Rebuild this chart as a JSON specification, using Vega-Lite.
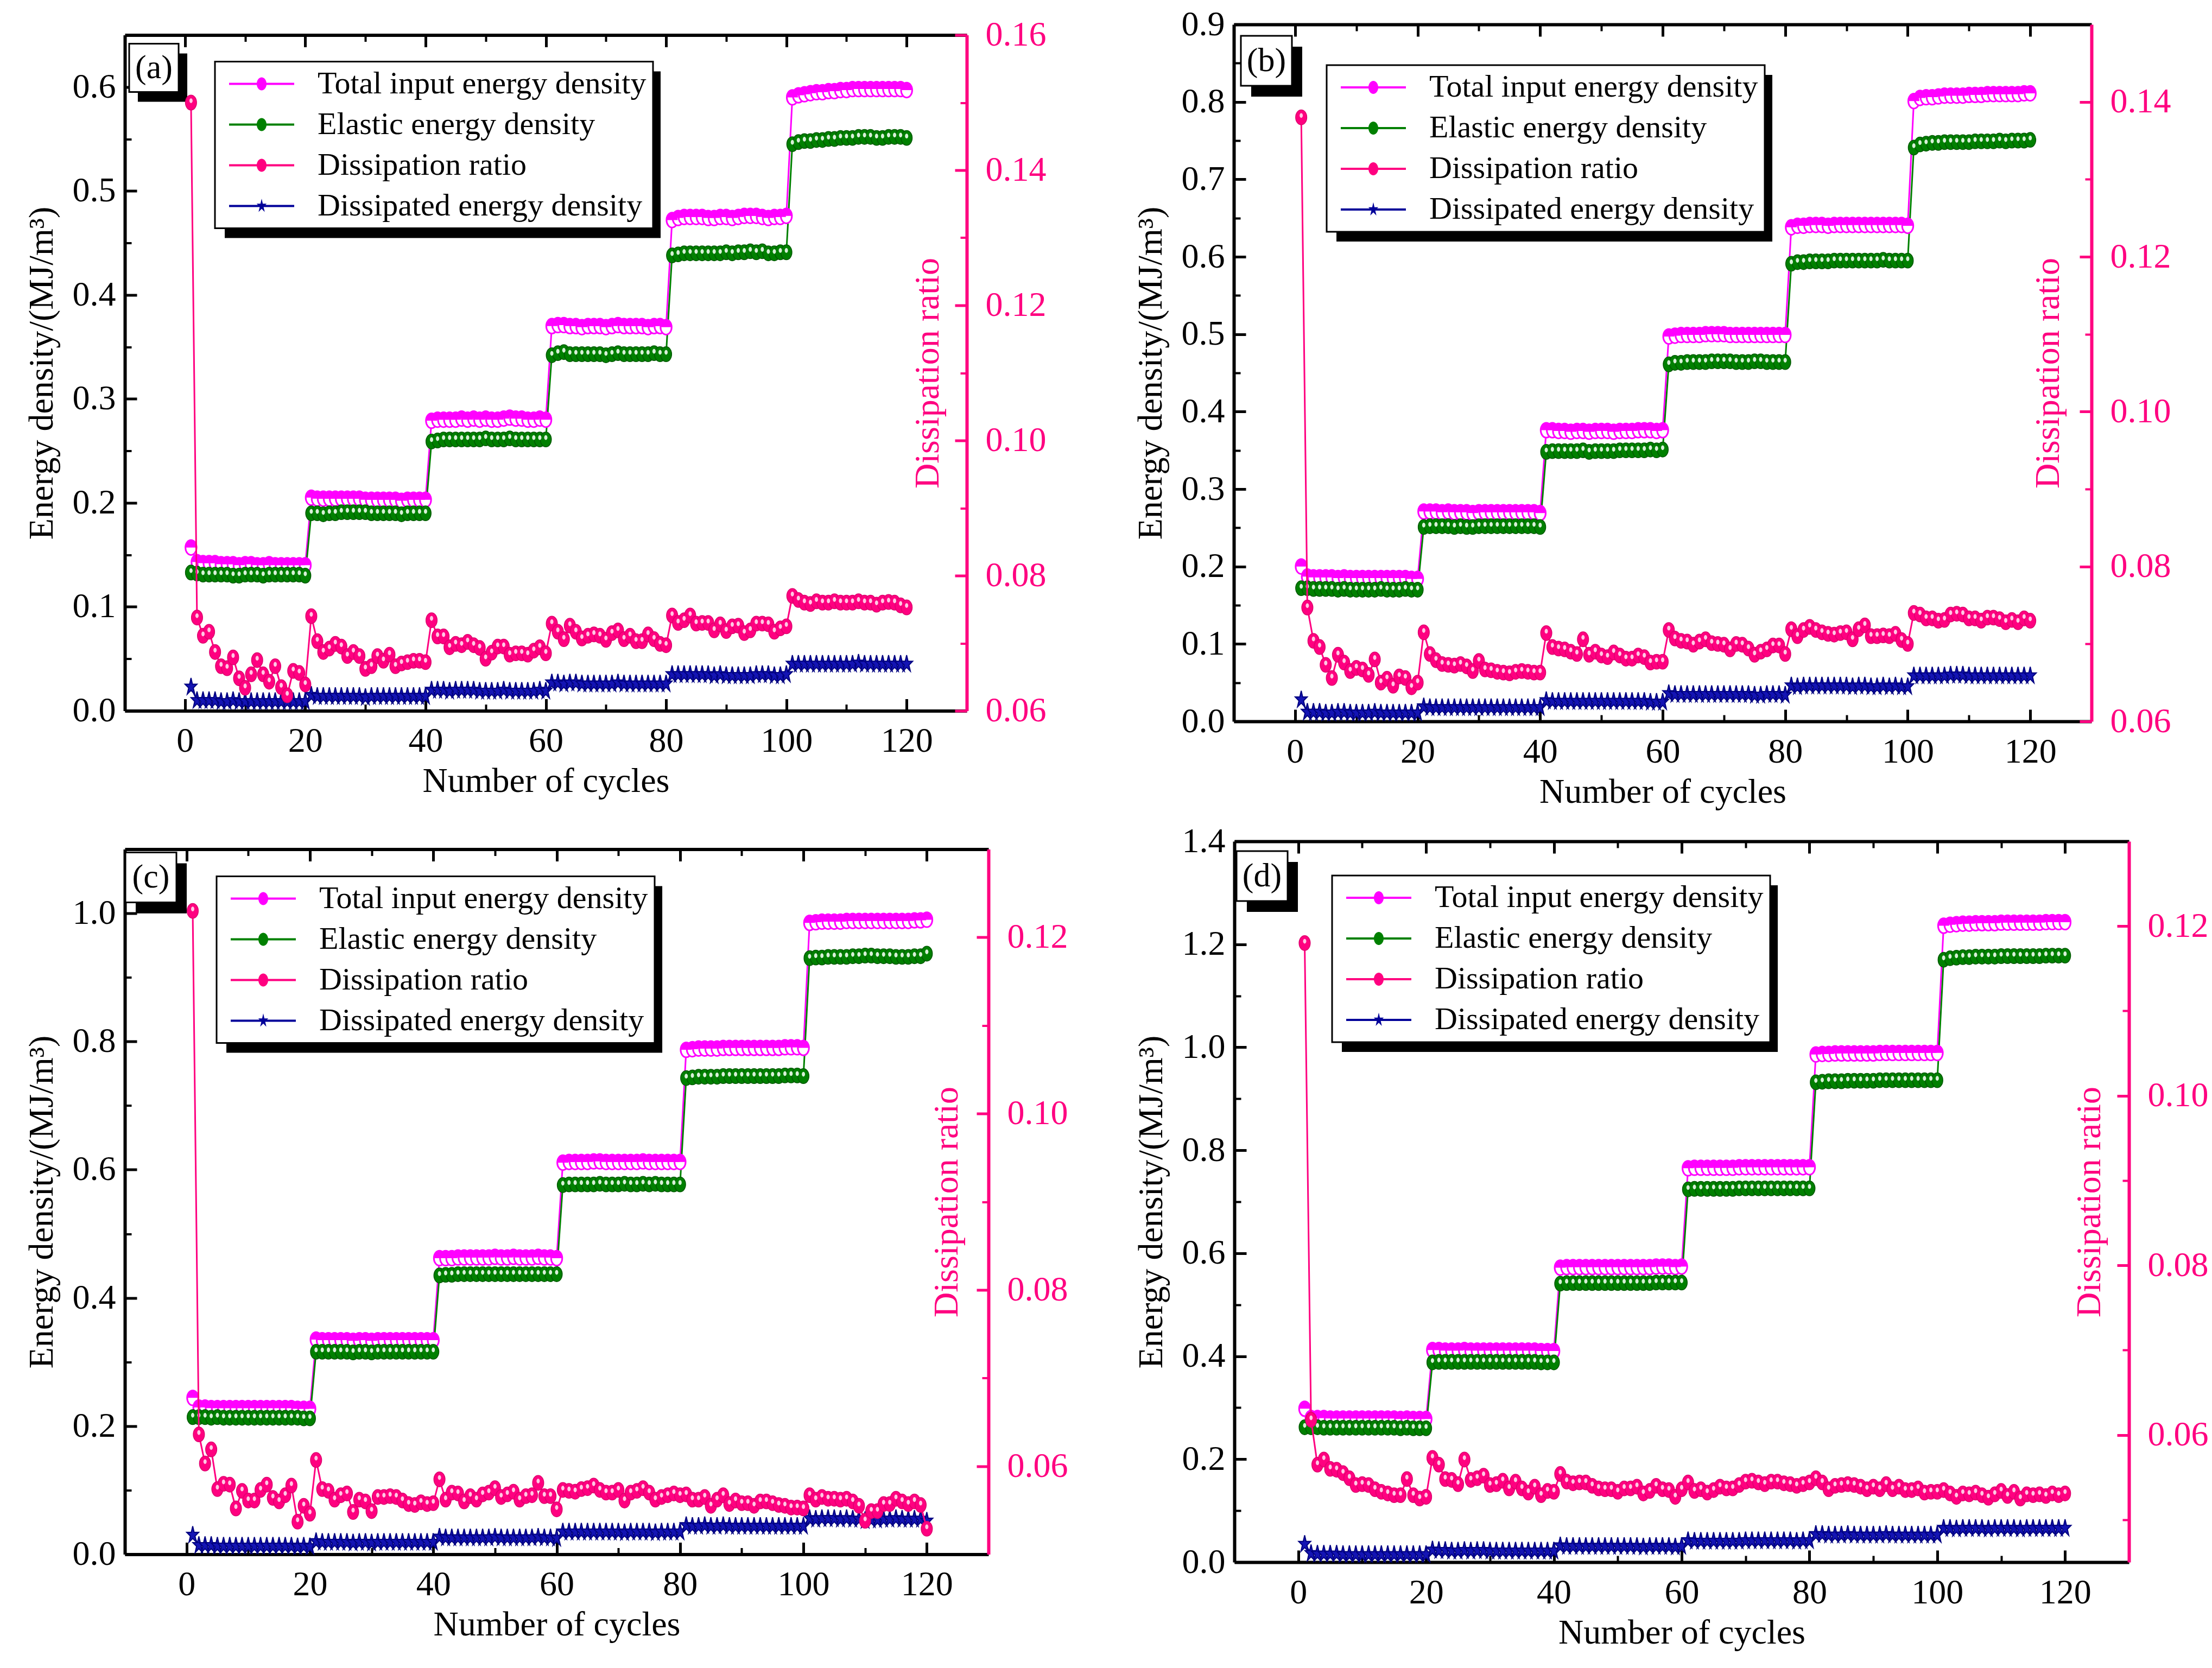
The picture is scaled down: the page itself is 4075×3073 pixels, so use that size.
{
  "$schema": "https://vega.github.io/schema/vega-lite/v6.json",
  "background": "white",
  "padding": {"left": 45, "top": 13, "right": 10, "bottom": 10},
  "config": {
    "font": "Liberation Serif",
    "view": {"stroke": null},
    "axis": {
      "grid": false, "labelFont": "Liberation Serif", "titleFont": "Liberation Serif",
      "labelFontSize": 64, "titleFontSize": 64, "titleFontWeight": "normal",
      "labelColor": "black", "titleColor": "black", "domainColor": "black", "tickColor": "black",
      "domainWidth": 6, "tickWidth": 5, "labelFlush": false, "labelOverlap": false
    },
    "legend": {"labelFont": "Liberation Serif", "labelLimit": 3000, "strokeWidth": 3}
  },
  "datasets": {
    "leg": [
      {"s": "Total input energy density"},
      {"s": "Elastic energy density"},
      {"s": "Dissipation ratio"},
      {"s": "Dissipated energy density"}
    ],
    "a": [
      {"n":1,"t":0.157,"e":0.133,"r":0.150,"w":0.023},
      {"n":2,"t":0.143,"e":0.132,"r":0.0738,"w":0.010},
      {"n":3,"t":0.142,"e":0.131,"r":0.0711,"w":0.010},
      {"n":4,"t":0.142,"e":0.131,"r":0.0717,"w":0.010},
      {"n":5,"t":0.142,"e":0.131,"r":0.0687,"w":0.010},
      {"n":6,"t":0.141,"e":0.131,"r":0.0666,"w":0.009},
      {"n":7,"t":0.141,"e":0.131,"r":0.0663,"w":0.009},
      {"n":8,"t":0.141,"e":0.130,"r":0.0679,"w":0.010},
      {"n":9,"t":0.140,"e":0.130,"r":0.0648,"w":0.009},
      {"n":10,"t":0.141,"e":0.131,"r":0.0634,"w":0.009},
      {"n":11,"t":0.141,"e":0.131,"r":0.0654,"w":0.009},
      {"n":12,"t":0.140,"e":0.131,"r":0.0675,"w":0.009},
      {"n":13,"t":0.140,"e":0.130,"r":0.0654,"w":0.009},
      {"n":14,"t":0.141,"e":0.131,"r":0.0643,"w":0.009},
      {"n":15,"t":0.140,"e":0.131,"r":0.0666,"w":0.009},
      {"n":16,"t":0.140,"e":0.131,"r":0.0635,"w":0.009},
      {"n":17,"t":0.140,"e":0.131,"r":0.0623,"w":0.009},
      {"n":18,"t":0.140,"e":0.131,"r":0.0659,"w":0.009},
      {"n":19,"t":0.140,"e":0.131,"r":0.0656,"w":0.009},
      {"n":20,"t":0.140,"e":0.130,"r":0.0639,"w":0.009},
      {"n":21,"t":0.205,"e":0.190,"r":0.0740,"w":0.015},
      {"n":22,"t":0.204,"e":0.190,"r":0.0703,"w":0.014},
      {"n":23,"t":0.204,"e":0.189,"r":0.0687,"w":0.014},
      {"n":24,"t":0.204,"e":0.190,"r":0.0692,"w":0.014},
      {"n":25,"t":0.204,"e":0.190,"r":0.0699,"w":0.014},
      {"n":26,"t":0.204,"e":0.191,"r":0.0695,"w":0.014},
      {"n":27,"t":0.204,"e":0.191,"r":0.0681,"w":0.014},
      {"n":28,"t":0.204,"e":0.191,"r":0.0687,"w":0.014},
      {"n":29,"t":0.204,"e":0.191,"r":0.0681,"w":0.014},
      {"n":30,"t":0.203,"e":0.191,"r":0.0662,"w":0.013},
      {"n":31,"t":0.203,"e":0.190,"r":0.0666,"w":0.014},
      {"n":32,"t":0.203,"e":0.190,"r":0.0681,"w":0.014},
      {"n":33,"t":0.203,"e":0.190,"r":0.0674,"w":0.014},
      {"n":34,"t":0.203,"e":0.190,"r":0.0683,"w":0.014},
      {"n":35,"t":0.203,"e":0.190,"r":0.0666,"w":0.014},
      {"n":36,"t":0.202,"e":0.189,"r":0.0670,"w":0.014},
      {"n":37,"t":0.203,"e":0.190,"r":0.0672,"w":0.014},
      {"n":38,"t":0.203,"e":0.190,"r":0.0674,"w":0.014},
      {"n":39,"t":0.203,"e":0.190,"r":0.0674,"w":0.014},
      {"n":40,"t":0.203,"e":0.190,"r":0.0672,"w":0.014},
      {"n":41,"t":0.279,"e":0.259,"r":0.0734,"w":0.020},
      {"n":42,"t":0.280,"e":0.260,"r":0.0710,"w":0.020},
      {"n":43,"t":0.280,"e":0.261,"r":0.0710,"w":0.020},
      {"n":44,"t":0.280,"e":0.261,"r":0.0694,"w":0.019},
      {"n":45,"t":0.280,"e":0.261,"r":0.0699,"w":0.020},
      {"n":46,"t":0.281,"e":0.261,"r":0.0697,"w":0.020},
      {"n":47,"t":0.280,"e":0.261,"r":0.0702,"w":0.020},
      {"n":48,"t":0.281,"e":0.261,"r":0.0697,"w":0.020},
      {"n":49,"t":0.280,"e":0.261,"r":0.0693,"w":0.019},
      {"n":50,"t":0.281,"e":0.262,"r":0.0677,"w":0.019},
      {"n":51,"t":0.280,"e":0.261,"r":0.0686,"w":0.019},
      {"n":52,"t":0.280,"e":0.261,"r":0.0695,"w":0.019},
      {"n":53,"t":0.281,"e":0.261,"r":0.0695,"w":0.020},
      {"n":54,"t":0.282,"e":0.262,"r":0.0683,"w":0.019},
      {"n":55,"t":0.281,"e":0.261,"r":0.0685,"w":0.019},
      {"n":56,"t":0.281,"e":0.261,"r":0.0685,"w":0.019},
      {"n":57,"t":0.280,"e":0.261,"r":0.0683,"w":0.019},
      {"n":58,"t":0.280,"e":0.261,"r":0.0689,"w":0.019},
      {"n":59,"t":0.281,"e":0.261,"r":0.0694,"w":0.020},
      {"n":60,"t":0.280,"e":0.261,"r":0.0685,"w":0.019},
      {"n":61,"t":0.370,"e":0.342,"r":0.0729,"w":0.027},
      {"n":62,"t":0.371,"e":0.344,"r":0.0717,"w":0.027},
      {"n":63,"t":0.371,"e":0.345,"r":0.0706,"w":0.026},
      {"n":64,"t":0.370,"e":0.343,"r":0.0726,"w":0.027},
      {"n":65,"t":0.370,"e":0.343,"r":0.0717,"w":0.027},
      {"n":66,"t":0.369,"e":0.343,"r":0.0707,"w":0.026},
      {"n":67,"t":0.370,"e":0.343,"r":0.0711,"w":0.026},
      {"n":68,"t":0.370,"e":0.343,"r":0.0713,"w":0.026},
      {"n":69,"t":0.370,"e":0.343,"r":0.0711,"w":0.026},
      {"n":70,"t":0.369,"e":0.342,"r":0.0705,"w":0.026},
      {"n":71,"t":0.370,"e":0.343,"r":0.0715,"w":0.026},
      {"n":72,"t":0.371,"e":0.344,"r":0.0719,"w":0.027},
      {"n":73,"t":0.370,"e":0.343,"r":0.0706,"w":0.026},
      {"n":74,"t":0.370,"e":0.343,"r":0.0711,"w":0.026},
      {"n":75,"t":0.370,"e":0.343,"r":0.0703,"w":0.026},
      {"n":76,"t":0.370,"e":0.343,"r":0.0703,"w":0.026},
      {"n":77,"t":0.369,"e":0.343,"r":0.0713,"w":0.026},
      {"n":78,"t":0.370,"e":0.344,"r":0.0706,"w":0.026},
      {"n":79,"t":0.370,"e":0.343,"r":0.0699,"w":0.026},
      {"n":80,"t":0.369,"e":0.343,"r":0.0697,"w":0.026},
      {"n":81,"t":0.472,"e":0.438,"r":0.0741,"w":0.035},
      {"n":82,"t":0.474,"e":0.439,"r":0.0730,"w":0.035},
      {"n":83,"t":0.475,"e":0.440,"r":0.0734,"w":0.035},
      {"n":84,"t":0.475,"e":0.440,"r":0.0741,"w":0.035},
      {"n":85,"t":0.475,"e":0.440,"r":0.0729,"w":0.035},
      {"n":86,"t":0.475,"e":0.440,"r":0.0730,"w":0.035},
      {"n":87,"t":0.474,"e":0.440,"r":0.0730,"w":0.035},
      {"n":88,"t":0.474,"e":0.440,"r":0.0719,"w":0.034},
      {"n":89,"t":0.475,"e":0.440,"r":0.0728,"w":0.035},
      {"n":90,"t":0.475,"e":0.441,"r":0.0718,"w":0.034},
      {"n":91,"t":0.474,"e":0.440,"r":0.0725,"w":0.034},
      {"n":92,"t":0.475,"e":0.441,"r":0.0726,"w":0.034},
      {"n":93,"t":0.476,"e":0.441,"r":0.0715,"w":0.034},
      {"n":94,"t":0.476,"e":0.442,"r":0.0719,"w":0.034},
      {"n":95,"t":0.476,"e":0.441,"r":0.0729,"w":0.035},
      {"n":96,"t":0.475,"e":0.442,"r":0.0729,"w":0.035},
      {"n":97,"t":0.474,"e":0.440,"r":0.0728,"w":0.035},
      {"n":98,"t":0.475,"e":0.440,"r":0.0717,"w":0.034},
      {"n":99,"t":0.475,"e":0.441,"r":0.0722,"w":0.034},
      {"n":100,"t":0.476,"e":0.441,"r":0.0725,"w":0.035},
      {"n":101,"t":0.590,"e":0.545,"r":0.0770,"w":0.045},
      {"n":102,"t":0.592,"e":0.547,"r":0.0764,"w":0.045},
      {"n":103,"t":0.593,"e":0.548,"r":0.0760,"w":0.045},
      {"n":104,"t":0.594,"e":0.548,"r":0.0758,"w":0.045},
      {"n":105,"t":0.595,"e":0.549,"r":0.0762,"w":0.045},
      {"n":106,"t":0.595,"e":0.549,"r":0.0760,"w":0.045},
      {"n":107,"t":0.596,"e":0.550,"r":0.0760,"w":0.045},
      {"n":108,"t":0.596,"e":0.550,"r":0.0762,"w":0.045},
      {"n":109,"t":0.597,"e":0.551,"r":0.0760,"w":0.045},
      {"n":110,"t":0.597,"e":0.551,"r":0.0760,"w":0.045},
      {"n":111,"t":0.598,"e":0.551,"r":0.0760,"w":0.045},
      {"n":112,"t":0.598,"e":0.552,"r":0.0762,"w":0.046},
      {"n":113,"t":0.598,"e":0.552,"r":0.0760,"w":0.045},
      {"n":114,"t":0.598,"e":0.552,"r":0.0760,"w":0.045},
      {"n":115,"t":0.598,"e":0.551,"r":0.0757,"w":0.045},
      {"n":116,"t":0.598,"e":0.551,"r":0.0760,"w":0.045},
      {"n":117,"t":0.598,"e":0.552,"r":0.0761,"w":0.045},
      {"n":118,"t":0.598,"e":0.552,"r":0.0760,"w":0.045},
      {"n":119,"t":0.598,"e":0.552,"r":0.0756,"w":0.045},
      {"n":120,"t":0.597,"e":0.551,"r":0.0753,"w":0.045}
    ],
    "b": [
      {"n":1,"t":0.200,"e":0.172,"r":0.138,"w":0.028},
      {"n":2,"t":0.187,"e":0.172,"r":0.0747,"w":0.012},
      {"n":3,"t":0.186,"e":0.171,"r":0.0704,"w":0.012},
      {"n":4,"t":0.186,"e":0.171,"r":0.0696,"w":0.012},
      {"n":5,"t":0.186,"e":0.171,"r":0.0673,"w":0.011},
      {"n":6,"t":0.186,"e":0.171,"r":0.0656,"w":0.011},
      {"n":7,"t":0.185,"e":0.170,"r":0.0686,"w":0.012},
      {"n":8,"t":0.186,"e":0.171,"r":0.0676,"w":0.012},
      {"n":9,"t":0.185,"e":0.170,"r":0.0665,"w":0.011},
      {"n":10,"t":0.185,"e":0.170,"r":0.0669,"w":0.011},
      {"n":11,"t":0.185,"e":0.170,"r":0.0667,"w":0.011},
      {"n":12,"t":0.185,"e":0.170,"r":0.0660,"w":0.011},
      {"n":13,"t":0.185,"e":0.170,"r":0.0680,"w":0.012},
      {"n":14,"t":0.185,"e":0.171,"r":0.0650,"w":0.011},
      {"n":15,"t":0.185,"e":0.170,"r":0.0655,"w":0.011},
      {"n":16,"t":0.185,"e":0.170,"r":0.0646,"w":0.011},
      {"n":17,"t":0.185,"e":0.170,"r":0.0658,"w":0.011},
      {"n":18,"t":0.185,"e":0.171,"r":0.0656,"w":0.011},
      {"n":19,"t":0.184,"e":0.170,"r":0.0644,"w":0.011},
      {"n":20,"t":0.184,"e":0.170,"r":0.0650,"w":0.011},
      {"n":21,"t":0.271,"e":0.251,"r":0.0715,"w":0.019},
      {"n":22,"t":0.271,"e":0.252,"r":0.0687,"w":0.018},
      {"n":23,"t":0.271,"e":0.252,"r":0.0679,"w":0.018},
      {"n":24,"t":0.270,"e":0.252,"r":0.0674,"w":0.018},
      {"n":25,"t":0.271,"e":0.252,"r":0.0673,"w":0.018},
      {"n":26,"t":0.270,"e":0.251,"r":0.0672,"w":0.018},
      {"n":27,"t":0.270,"e":0.252,"r":0.0674,"w":0.018},
      {"n":28,"t":0.270,"e":0.251,"r":0.0671,"w":0.018},
      {"n":29,"t":0.269,"e":0.251,"r":0.0665,"w":0.018},
      {"n":30,"t":0.270,"e":0.252,"r":0.0678,"w":0.018},
      {"n":31,"t":0.270,"e":0.252,"r":0.0667,"w":0.018},
      {"n":32,"t":0.270,"e":0.252,"r":0.0666,"w":0.018},
      {"n":33,"t":0.270,"e":0.252,"r":0.0664,"w":0.018},
      {"n":34,"t":0.270,"e":0.252,"r":0.0663,"w":0.018},
      {"n":35,"t":0.270,"e":0.252,"r":0.0662,"w":0.018},
      {"n":36,"t":0.270,"e":0.252,"r":0.0664,"w":0.018},
      {"n":37,"t":0.270,"e":0.252,"r":0.0665,"w":0.018},
      {"n":38,"t":0.270,"e":0.252,"r":0.0664,"w":0.018},
      {"n":39,"t":0.270,"e":0.252,"r":0.0663,"w":0.018},
      {"n":40,"t":0.269,"e":0.251,"r":0.0663,"w":0.018},
      {"n":41,"t":0.376,"e":0.348,"r":0.0714,"w":0.027},
      {"n":42,"t":0.376,"e":0.349,"r":0.0696,"w":0.026},
      {"n":43,"t":0.375,"e":0.349,"r":0.0694,"w":0.026},
      {"n":44,"t":0.375,"e":0.349,"r":0.0693,"w":0.026},
      {"n":45,"t":0.374,"e":0.349,"r":0.0690,"w":0.026},
      {"n":46,"t":0.375,"e":0.349,"r":0.0687,"w":0.026},
      {"n":47,"t":0.375,"e":0.350,"r":0.0706,"w":0.026},
      {"n":48,"t":0.374,"e":0.348,"r":0.0686,"w":0.026},
      {"n":49,"t":0.375,"e":0.349,"r":0.0690,"w":0.026},
      {"n":50,"t":0.375,"e":0.349,"r":0.0685,"w":0.026},
      {"n":51,"t":0.375,"e":0.349,"r":0.0683,"w":0.026},
      {"n":52,"t":0.374,"e":0.349,"r":0.0689,"w":0.026},
      {"n":53,"t":0.375,"e":0.350,"r":0.0685,"w":0.026},
      {"n":54,"t":0.375,"e":0.350,"r":0.0681,"w":0.026},
      {"n":55,"t":0.375,"e":0.350,"r":0.0681,"w":0.026},
      {"n":56,"t":0.376,"e":0.350,"r":0.0685,"w":0.026},
      {"n":57,"t":0.376,"e":0.350,"r":0.0683,"w":0.026},
      {"n":58,"t":0.376,"e":0.351,"r":0.0676,"w":0.025},
      {"n":59,"t":0.375,"e":0.350,"r":0.0677,"w":0.025},
      {"n":60,"t":0.376,"e":0.351,"r":0.0677,"w":0.025},
      {"n":61,"t":0.497,"e":0.461,"r":0.0718,"w":0.036},
      {"n":62,"t":0.498,"e":0.463,"r":0.0707,"w":0.035},
      {"n":63,"t":0.499,"e":0.463,"r":0.0704,"w":0.035},
      {"n":64,"t":0.499,"e":0.464,"r":0.0703,"w":0.035},
      {"n":65,"t":0.499,"e":0.464,"r":0.0699,"w":0.035},
      {"n":66,"t":0.499,"e":0.464,"r":0.0703,"w":0.035},
      {"n":67,"t":0.500,"e":0.464,"r":0.0706,"w":0.035},
      {"n":68,"t":0.500,"e":0.465,"r":0.0701,"w":0.035},
      {"n":69,"t":0.500,"e":0.465,"r":0.0700,"w":0.035},
      {"n":70,"t":0.500,"e":0.465,"r":0.0699,"w":0.035},
      {"n":71,"t":0.499,"e":0.465,"r":0.0693,"w":0.035},
      {"n":72,"t":0.499,"e":0.464,"r":0.0700,"w":0.035},
      {"n":73,"t":0.499,"e":0.464,"r":0.0699,"w":0.035},
      {"n":74,"t":0.499,"e":0.464,"r":0.0694,"w":0.035},
      {"n":75,"t":0.499,"e":0.465,"r":0.0686,"w":0.034},
      {"n":76,"t":0.499,"e":0.465,"r":0.0690,"w":0.034},
      {"n":77,"t":0.499,"e":0.464,"r":0.0693,"w":0.035},
      {"n":78,"t":0.499,"e":0.464,"r":0.0698,"w":0.035},
      {"n":79,"t":0.499,"e":0.464,"r":0.0698,"w":0.035},
      {"n":80,"t":0.499,"e":0.464,"r":0.0687,"w":0.034},
      {"n":81,"t":0.638,"e":0.591,"r":0.0719,"w":0.046},
      {"n":82,"t":0.640,"e":0.593,"r":0.0710,"w":0.045},
      {"n":83,"t":0.640,"e":0.593,"r":0.0718,"w":0.046},
      {"n":84,"t":0.641,"e":0.594,"r":0.0722,"w":0.046},
      {"n":85,"t":0.641,"e":0.594,"r":0.0718,"w":0.046},
      {"n":86,"t":0.641,"e":0.594,"r":0.0715,"w":0.046},
      {"n":87,"t":0.640,"e":0.594,"r":0.0713,"w":0.046},
      {"n":88,"t":0.641,"e":0.595,"r":0.0712,"w":0.046},
      {"n":89,"t":0.641,"e":0.595,"r":0.0714,"w":0.046},
      {"n":90,"t":0.641,"e":0.595,"r":0.0715,"w":0.046},
      {"n":91,"t":0.641,"e":0.595,"r":0.0706,"w":0.045},
      {"n":92,"t":0.641,"e":0.595,"r":0.0719,"w":0.046},
      {"n":93,"t":0.641,"e":0.595,"r":0.0724,"w":0.046},
      {"n":94,"t":0.641,"e":0.595,"r":0.0710,"w":0.045},
      {"n":95,"t":0.641,"e":0.595,"r":0.0710,"w":0.045},
      {"n":96,"t":0.641,"e":0.596,"r":0.0711,"w":0.046},
      {"n":97,"t":0.641,"e":0.595,"r":0.0710,"w":0.045},
      {"n":98,"t":0.641,"e":0.595,"r":0.0713,"w":0.046},
      {"n":99,"t":0.641,"e":0.595,"r":0.0705,"w":0.045},
      {"n":100,"t":0.640,"e":0.595,"r":0.0700,"w":0.045},
      {"n":101,"t":0.801,"e":0.741,"r":0.0740,"w":0.059},
      {"n":102,"t":0.805,"e":0.745,"r":0.0738,"w":0.059},
      {"n":103,"t":0.806,"e":0.746,"r":0.0733,"w":0.059},
      {"n":104,"t":0.806,"e":0.747,"r":0.0733,"w":0.059},
      {"n":105,"t":0.807,"e":0.747,"r":0.0730,"w":0.059},
      {"n":106,"t":0.808,"e":0.748,"r":0.0731,"w":0.059},
      {"n":107,"t":0.808,"e":0.748,"r":0.0738,"w":0.060},
      {"n":108,"t":0.808,"e":0.748,"r":0.0739,"w":0.060},
      {"n":109,"t":0.808,"e":0.748,"r":0.0738,"w":0.060},
      {"n":110,"t":0.809,"e":0.748,"r":0.0733,"w":0.059},
      {"n":111,"t":0.809,"e":0.749,"r":0.0733,"w":0.059},
      {"n":112,"t":0.809,"e":0.749,"r":0.0730,"w":0.059},
      {"n":113,"t":0.810,"e":0.749,"r":0.0734,"w":0.059},
      {"n":114,"t":0.810,"e":0.749,"r":0.0734,"w":0.059},
      {"n":115,"t":0.810,"e":0.750,"r":0.0732,"w":0.059},
      {"n":116,"t":0.810,"e":0.749,"r":0.0728,"w":0.059},
      {"n":117,"t":0.810,"e":0.750,"r":0.0731,"w":0.059},
      {"n":118,"t":0.810,"e":0.750,"r":0.0728,"w":0.059},
      {"n":119,"t":0.811,"e":0.750,"r":0.0733,"w":0.059},
      {"n":120,"t":0.811,"e":0.751,"r":0.0730,"w":0.059}
    ],
    "c": [
      {"n":1,"t":0.244,"e":0.214,"r":0.123,"w":0.030},
      {"n":2,"t":0.229,"e":0.214,"r":0.0636,"w":0.014},
      {"n":3,"t":0.229,"e":0.214,"r":0.0603,"w":0.014},
      {"n":4,"t":0.228,"e":0.213,"r":0.0619,"w":0.014},
      {"n":5,"t":0.228,"e":0.214,"r":0.0574,"w":0.013},
      {"n":6,"t":0.228,"e":0.213,"r":0.0580,"w":0.013},
      {"n":7,"t":0.228,"e":0.213,"r":0.0579,"w":0.013},
      {"n":8,"t":0.228,"e":0.213,"r":0.0552,"w":0.013},
      {"n":9,"t":0.228,"e":0.213,"r":0.0572,"w":0.013},
      {"n":10,"t":0.228,"e":0.213,"r":0.0561,"w":0.013},
      {"n":11,"t":0.228,"e":0.213,"r":0.0561,"w":0.013},
      {"n":12,"t":0.228,"e":0.213,"r":0.0573,"w":0.013},
      {"n":13,"t":0.228,"e":0.213,"r":0.0579,"w":0.013},
      {"n":14,"t":0.228,"e":0.213,"r":0.0564,"w":0.013},
      {"n":15,"t":0.228,"e":0.213,"r":0.0560,"w":0.013},
      {"n":16,"t":0.228,"e":0.213,"r":0.0567,"w":0.013},
      {"n":17,"t":0.228,"e":0.213,"r":0.0578,"w":0.013},
      {"n":18,"t":0.227,"e":0.213,"r":0.0537,"w":0.012},
      {"n":19,"t":0.227,"e":0.212,"r":0.0555,"w":0.013},
      {"n":20,"t":0.227,"e":0.212,"r":0.0546,"w":0.012},
      {"n":21,"t":0.335,"e":0.316,"r":0.0607,"w":0.020},
      {"n":22,"t":0.334,"e":0.316,"r":0.0574,"w":0.019},
      {"n":23,"t":0.334,"e":0.316,"r":0.0572,"w":0.019},
      {"n":24,"t":0.334,"e":0.316,"r":0.0562,"w":0.019},
      {"n":25,"t":0.334,"e":0.316,"r":0.0567,"w":0.019},
      {"n":26,"t":0.334,"e":0.316,"r":0.0569,"w":0.019},
      {"n":27,"t":0.333,"e":0.315,"r":0.0548,"w":0.018},
      {"n":28,"t":0.334,"e":0.316,"r":0.0562,"w":0.019},
      {"n":29,"t":0.334,"e":0.316,"r":0.0560,"w":0.019},
      {"n":30,"t":0.333,"e":0.315,"r":0.0549,"w":0.018},
      {"n":31,"t":0.334,"e":0.316,"r":0.0565,"w":0.019},
      {"n":32,"t":0.334,"e":0.316,"r":0.0565,"w":0.019},
      {"n":33,"t":0.334,"e":0.316,"r":0.0566,"w":0.019},
      {"n":34,"t":0.334,"e":0.316,"r":0.0565,"w":0.019},
      {"n":35,"t":0.334,"e":0.316,"r":0.0561,"w":0.019},
      {"n":36,"t":0.334,"e":0.316,"r":0.0557,"w":0.019},
      {"n":37,"t":0.334,"e":0.316,"r":0.0556,"w":0.019},
      {"n":38,"t":0.334,"e":0.316,"r":0.0559,"w":0.019},
      {"n":39,"t":0.334,"e":0.316,"r":0.0557,"w":0.019},
      {"n":40,"t":0.334,"e":0.316,"r":0.0558,"w":0.019},
      {"n":41,"t":0.462,"e":0.435,"r":0.0585,"w":0.027},
      {"n":42,"t":0.462,"e":0.436,"r":0.0562,"w":0.026},
      {"n":43,"t":0.462,"e":0.436,"r":0.0570,"w":0.026},
      {"n":44,"t":0.463,"e":0.437,"r":0.0569,"w":0.026},
      {"n":45,"t":0.463,"e":0.437,"r":0.0560,"w":0.026},
      {"n":46,"t":0.463,"e":0.437,"r":0.0566,"w":0.026},
      {"n":47,"t":0.463,"e":0.437,"r":0.0562,"w":0.026},
      {"n":48,"t":0.463,"e":0.437,"r":0.0568,"w":0.026},
      {"n":49,"t":0.463,"e":0.437,"r":0.0570,"w":0.026},
      {"n":50,"t":0.464,"e":0.437,"r":0.0575,"w":0.027},
      {"n":51,"t":0.463,"e":0.437,"r":0.0565,"w":0.026},
      {"n":52,"t":0.463,"e":0.437,"r":0.0568,"w":0.026},
      {"n":53,"t":0.464,"e":0.437,"r":0.0571,"w":0.026},
      {"n":54,"t":0.463,"e":0.437,"r":0.0562,"w":0.026},
      {"n":55,"t":0.463,"e":0.437,"r":0.0566,"w":0.026},
      {"n":56,"t":0.463,"e":0.437,"r":0.0567,"w":0.026},
      {"n":57,"t":0.464,"e":0.437,"r":0.0581,"w":0.027},
      {"n":58,"t":0.463,"e":0.437,"r":0.0566,"w":0.026},
      {"n":59,"t":0.463,"e":0.437,"r":0.0566,"w":0.026},
      {"n":60,"t":0.462,"e":0.437,"r":0.0551,"w":0.025},
      {"n":61,"t":0.611,"e":0.576,"r":0.0573,"w":0.035},
      {"n":62,"t":0.612,"e":0.577,"r":0.0572,"w":0.035},
      {"n":63,"t":0.612,"e":0.577,"r":0.0571,"w":0.035},
      {"n":64,"t":0.612,"e":0.577,"r":0.0574,"w":0.035},
      {"n":65,"t":0.612,"e":0.577,"r":0.0575,"w":0.035},
      {"n":66,"t":0.613,"e":0.577,"r":0.0578,"w":0.035},
      {"n":67,"t":0.613,"e":0.578,"r":0.0573,"w":0.035},
      {"n":68,"t":0.612,"e":0.577,"r":0.0570,"w":0.035},
      {"n":69,"t":0.612,"e":0.577,"r":0.0570,"w":0.035},
      {"n":70,"t":0.612,"e":0.577,"r":0.0573,"w":0.035},
      {"n":71,"t":0.612,"e":0.578,"r":0.0561,"w":0.034},
      {"n":72,"t":0.612,"e":0.577,"r":0.0570,"w":0.035},
      {"n":73,"t":0.612,"e":0.577,"r":0.0572,"w":0.035},
      {"n":74,"t":0.613,"e":0.578,"r":0.0575,"w":0.035},
      {"n":75,"t":0.612,"e":0.577,"r":0.0570,"w":0.035},
      {"n":76,"t":0.612,"e":0.578,"r":0.0562,"w":0.034},
      {"n":77,"t":0.612,"e":0.577,"r":0.0565,"w":0.035},
      {"n":78,"t":0.612,"e":0.577,"r":0.0567,"w":0.035},
      {"n":79,"t":0.612,"e":0.577,"r":0.0569,"w":0.035},
      {"n":80,"t":0.612,"e":0.577,"r":0.0567,"w":0.035},
      {"n":81,"t":0.787,"e":0.743,"r":0.0568,"w":0.045},
      {"n":82,"t":0.788,"e":0.744,"r":0.0562,"w":0.044},
      {"n":83,"t":0.789,"e":0.745,"r":0.0562,"w":0.044},
      {"n":84,"t":0.789,"e":0.745,"r":0.0565,"w":0.045},
      {"n":85,"t":0.789,"e":0.745,"r":0.0555,"w":0.044},
      {"n":86,"t":0.789,"e":0.745,"r":0.0562,"w":0.044},
      {"n":87,"t":0.790,"e":0.746,"r":0.0567,"w":0.045},
      {"n":88,"t":0.790,"e":0.746,"r":0.0557,"w":0.044},
      {"n":89,"t":0.790,"e":0.746,"r":0.0561,"w":0.044},
      {"n":90,"t":0.790,"e":0.746,"r":0.0558,"w":0.044},
      {"n":91,"t":0.790,"e":0.746,"r":0.0558,"w":0.044},
      {"n":92,"t":0.790,"e":0.746,"r":0.0555,"w":0.044},
      {"n":93,"t":0.790,"e":0.746,"r":0.0560,"w":0.044},
      {"n":94,"t":0.790,"e":0.746,"r":0.0560,"w":0.044},
      {"n":95,"t":0.790,"e":0.746,"r":0.0558,"w":0.044},
      {"n":96,"t":0.790,"e":0.746,"r":0.0556,"w":0.044},
      {"n":97,"t":0.791,"e":0.747,"r":0.0555,"w":0.044},
      {"n":98,"t":0.791,"e":0.747,"r":0.0553,"w":0.044},
      {"n":99,"t":0.791,"e":0.747,"r":0.0553,"w":0.044},
      {"n":100,"t":0.790,"e":0.746,"r":0.0552,"w":0.044},
      {"n":101,"t":0.985,"e":0.930,"r":0.0567,"w":0.056},
      {"n":102,"t":0.986,"e":0.931,"r":0.0562,"w":0.055},
      {"n":103,"t":0.987,"e":0.931,"r":0.0565,"w":0.056},
      {"n":104,"t":0.987,"e":0.932,"r":0.0563,"w":0.056},
      {"n":105,"t":0.987,"e":0.932,"r":0.0563,"w":0.056},
      {"n":106,"t":0.987,"e":0.932,"r":0.0562,"w":0.055},
      {"n":107,"t":0.988,"e":0.932,"r":0.0563,"w":0.056},
      {"n":108,"t":0.988,"e":0.933,"r":0.0560,"w":0.055},
      {"n":109,"t":0.988,"e":0.933,"r":0.0555,"w":0.055},
      {"n":110,"t":0.988,"e":0.934,"r":0.0538,"w":0.053},
      {"n":111,"t":0.988,"e":0.934,"r":0.0549,"w":0.054},
      {"n":112,"t":0.988,"e":0.933,"r":0.0549,"w":0.054},
      {"n":113,"t":0.988,"e":0.933,"r":0.0557,"w":0.055},
      {"n":114,"t":0.988,"e":0.933,"r":0.0557,"w":0.055},
      {"n":115,"t":0.988,"e":0.932,"r":0.0563,"w":0.056},
      {"n":116,"t":0.988,"e":0.932,"r":0.0560,"w":0.055},
      {"n":117,"t":0.988,"e":0.932,"r":0.0557,"w":0.055},
      {"n":118,"t":0.989,"e":0.933,"r":0.0560,"w":0.055},
      {"n":119,"t":0.989,"e":0.933,"r":0.0556,"w":0.055},
      {"n":120,"t":0.990,"e":0.937,"r":0.0529,"w":0.052}
    ],
    "d": [
      {"n":1,"t":0.298,"e":0.262,"r":0.118,"w":0.035},
      {"n":2,"t":0.280,"e":0.262,"r":0.0618,"w":0.017},
      {"n":3,"t":0.280,"e":0.262,"r":0.0565,"w":0.016},
      {"n":4,"t":0.280,"e":0.261,"r":0.0571,"w":0.016},
      {"n":5,"t":0.279,"e":0.261,"r":0.0560,"w":0.016},
      {"n":6,"t":0.279,"e":0.261,"r":0.0559,"w":0.016},
      {"n":7,"t":0.279,"e":0.261,"r":0.0555,"w":0.015},
      {"n":8,"t":0.279,"e":0.261,"r":0.0549,"w":0.015},
      {"n":9,"t":0.279,"e":0.261,"r":0.0541,"w":0.015},
      {"n":10,"t":0.279,"e":0.261,"r":0.0542,"w":0.015},
      {"n":11,"t":0.279,"e":0.261,"r":0.0541,"w":0.015},
      {"n":12,"t":0.279,"e":0.261,"r":0.0536,"w":0.015},
      {"n":13,"t":0.279,"e":0.261,"r":0.0533,"w":0.015},
      {"n":14,"t":0.279,"e":0.261,"r":0.0531,"w":0.015},
      {"n":15,"t":0.279,"e":0.261,"r":0.0529,"w":0.015},
      {"n":16,"t":0.278,"e":0.260,"r":0.0529,"w":0.015},
      {"n":17,"t":0.279,"e":0.261,"r":0.0548,"w":0.015},
      {"n":18,"t":0.278,"e":0.260,"r":0.0529,"w":0.015},
      {"n":19,"t":0.278,"e":0.260,"r":0.0525,"w":0.015},
      {"n":20,"t":0.278,"e":0.260,"r":0.0527,"w":0.015},
      {"n":21,"t":0.412,"e":0.388,"r":0.0573,"w":0.024},
      {"n":22,"t":0.412,"e":0.389,"r":0.0565,"w":0.023},
      {"n":23,"t":0.411,"e":0.389,"r":0.0548,"w":0.023},
      {"n":24,"t":0.411,"e":0.389,"r":0.0547,"w":0.022},
      {"n":25,"t":0.411,"e":0.389,"r":0.0542,"w":0.022},
      {"n":26,"t":0.412,"e":0.389,"r":0.0571,"w":0.023},
      {"n":27,"t":0.411,"e":0.389,"r":0.0547,"w":0.022},
      {"n":28,"t":0.411,"e":0.389,"r":0.0549,"w":0.023},
      {"n":29,"t":0.411,"e":0.389,"r":0.0552,"w":0.023},
      {"n":30,"t":0.411,"e":0.389,"r":0.0541,"w":0.022},
      {"n":31,"t":0.411,"e":0.389,"r":0.0542,"w":0.022},
      {"n":32,"t":0.411,"e":0.389,"r":0.0546,"w":0.022},
      {"n":33,"t":0.411,"e":0.389,"r":0.0537,"w":0.022},
      {"n":34,"t":0.411,"e":0.389,"r":0.0545,"w":0.022},
      {"n":35,"t":0.411,"e":0.389,"r":0.0537,"w":0.022},
      {"n":36,"t":0.411,"e":0.389,"r":0.0532,"w":0.022},
      {"n":37,"t":0.411,"e":0.389,"r":0.0539,"w":0.022},
      {"n":38,"t":0.410,"e":0.388,"r":0.0529,"w":0.022},
      {"n":39,"t":0.410,"e":0.388,"r":0.0534,"w":0.022},
      {"n":40,"t":0.410,"e":0.388,"r":0.0533,"w":0.022},
      {"n":41,"t":0.572,"e":0.541,"r":0.0554,"w":0.032},
      {"n":42,"t":0.573,"e":0.542,"r":0.0545,"w":0.031},
      {"n":43,"t":0.573,"e":0.542,"r":0.0543,"w":0.031},
      {"n":44,"t":0.573,"e":0.542,"r":0.0544,"w":0.031},
      {"n":45,"t":0.573,"e":0.542,"r":0.0544,"w":0.031},
      {"n":46,"t":0.573,"e":0.542,"r":0.0540,"w":0.031},
      {"n":47,"t":0.573,"e":0.542,"r":0.0537,"w":0.031},
      {"n":48,"t":0.573,"e":0.542,"r":0.0536,"w":0.031},
      {"n":49,"t":0.573,"e":0.542,"r":0.0536,"w":0.031},
      {"n":50,"t":0.573,"e":0.542,"r":0.0533,"w":0.031},
      {"n":51,"t":0.573,"e":0.542,"r":0.0537,"w":0.031},
      {"n":52,"t":0.573,"e":0.542,"r":0.0537,"w":0.031},
      {"n":53,"t":0.573,"e":0.542,"r":0.0539,"w":0.031},
      {"n":54,"t":0.573,"e":0.542,"r":0.0531,"w":0.030},
      {"n":55,"t":0.573,"e":0.542,"r":0.0534,"w":0.031},
      {"n":56,"t":0.574,"e":0.543,"r":0.0540,"w":0.031},
      {"n":57,"t":0.574,"e":0.543,"r":0.0536,"w":0.031},
      {"n":58,"t":0.574,"e":0.543,"r":0.0535,"w":0.031},
      {"n":59,"t":0.573,"e":0.543,"r":0.0527,"w":0.030},
      {"n":60,"t":0.574,"e":0.543,"r":0.0536,"w":0.031},
      {"n":61,"t":0.765,"e":0.724,"r":0.0544,"w":0.042},
      {"n":62,"t":0.766,"e":0.725,"r":0.0534,"w":0.041},
      {"n":63,"t":0.766,"e":0.725,"r":0.0536,"w":0.041},
      {"n":64,"t":0.766,"e":0.725,"r":0.0532,"w":0.041},
      {"n":65,"t":0.766,"e":0.725,"r":0.0535,"w":0.041},
      {"n":66,"t":0.766,"e":0.725,"r":0.0539,"w":0.041},
      {"n":67,"t":0.766,"e":0.725,"r":0.0537,"w":0.041},
      {"n":68,"t":0.766,"e":0.725,"r":0.0537,"w":0.041},
      {"n":69,"t":0.767,"e":0.726,"r":0.0541,"w":0.041},
      {"n":70,"t":0.767,"e":0.726,"r":0.0545,"w":0.042},
      {"n":71,"t":0.767,"e":0.726,"r":0.0546,"w":0.042},
      {"n":72,"t":0.767,"e":0.726,"r":0.0544,"w":0.042},
      {"n":73,"t":0.767,"e":0.726,"r":0.0542,"w":0.042},
      {"n":74,"t":0.767,"e":0.726,"r":0.0545,"w":0.042},
      {"n":75,"t":0.767,"e":0.726,"r":0.0545,"w":0.042},
      {"n":76,"t":0.767,"e":0.726,"r":0.0543,"w":0.042},
      {"n":77,"t":0.767,"e":0.726,"r":0.0542,"w":0.042},
      {"n":78,"t":0.767,"e":0.726,"r":0.0540,"w":0.041},
      {"n":79,"t":0.767,"e":0.726,"r":0.0542,"w":0.042},
      {"n":80,"t":0.767,"e":0.726,"r":0.0544,"w":0.042},
      {"n":81,"t":0.986,"e":0.932,"r":0.0549,"w":0.054},
      {"n":82,"t":0.987,"e":0.933,"r":0.0544,"w":0.054},
      {"n":83,"t":0.987,"e":0.934,"r":0.0536,"w":0.053},
      {"n":84,"t":0.988,"e":0.934,"r":0.0540,"w":0.053},
      {"n":85,"t":0.988,"e":0.934,"r":0.0541,"w":0.053},
      {"n":86,"t":0.988,"e":0.935,"r":0.0542,"w":0.054},
      {"n":87,"t":0.988,"e":0.935,"r":0.0541,"w":0.053},
      {"n":88,"t":0.988,"e":0.935,"r":0.0539,"w":0.053},
      {"n":89,"t":0.988,"e":0.935,"r":0.0536,"w":0.053},
      {"n":90,"t":0.988,"e":0.935,"r":0.0539,"w":0.053},
      {"n":91,"t":0.989,"e":0.936,"r":0.0536,"w":0.053},
      {"n":92,"t":0.989,"e":0.936,"r":0.0542,"w":0.054},
      {"n":93,"t":0.989,"e":0.936,"r":0.0536,"w":0.053},
      {"n":94,"t":0.989,"e":0.936,"r":0.0539,"w":0.053},
      {"n":95,"t":0.989,"e":0.936,"r":0.0535,"w":0.053},
      {"n":96,"t":0.989,"e":0.936,"r":0.0535,"w":0.053},
      {"n":97,"t":0.989,"e":0.936,"r":0.0537,"w":0.053},
      {"n":98,"t":0.989,"e":0.936,"r":0.0532,"w":0.053},
      {"n":99,"t":0.989,"e":0.936,"r":0.0533,"w":0.053},
      {"n":100,"t":0.989,"e":0.936,"r":0.0533,"w":0.053},
      {"n":101,"t":1.236,"e":1.170,"r":0.0535,"w":0.066},
      {"n":102,"t":1.238,"e":1.173,"r":0.0531,"w":0.066},
      {"n":103,"t":1.239,"e":1.174,"r":0.0527,"w":0.065},
      {"n":104,"t":1.240,"e":1.175,"r":0.0531,"w":0.066},
      {"n":105,"t":1.240,"e":1.175,"r":0.0530,"w":0.066},
      {"n":106,"t":1.241,"e":1.176,"r":0.0532,"w":0.066},
      {"n":107,"t":1.241,"e":1.176,"r":0.0529,"w":0.066},
      {"n":108,"t":1.241,"e":1.176,"r":0.0526,"w":0.065},
      {"n":109,"t":1.241,"e":1.176,"r":0.0530,"w":0.066},
      {"n":110,"t":1.242,"e":1.177,"r":0.0534,"w":0.066},
      {"n":111,"t":1.242,"e":1.177,"r":0.0528,"w":0.066},
      {"n":112,"t":1.242,"e":1.177,"r":0.0533,"w":0.066},
      {"n":113,"t":1.242,"e":1.177,"r":0.0525,"w":0.065},
      {"n":114,"t":1.242,"e":1.177,"r":0.0530,"w":0.066},
      {"n":115,"t":1.242,"e":1.177,"r":0.0529,"w":0.066},
      {"n":116,"t":1.242,"e":1.177,"r":0.0530,"w":0.066},
      {"n":117,"t":1.243,"e":1.178,"r":0.0528,"w":0.066},
      {"n":118,"t":1.243,"e":1.178,"r":0.0531,"w":0.066},
      {"n":119,"t":1.243,"e":1.178,"r":0.0529,"w":0.066},
      {"n":120,"t":1.243,"e":1.178,"r":0.0531,"w":0.066}
    ]
  },
  "spacing": 27,
  "align": "none",
  "resolve": {"scale": {"color": "independent", "shape": "independent"}},
  "vconcat": [
    {
      "hconcat": [
        {
          "width": 1551, "height": 1245,
          "data": {"name": "a"},
          "layer": [
            {
              "layer": [
                {"mark": {"type": "line", "color": "#FF00FF", "strokeWidth": 3},
                 "encoding": {
                   "x": {"field": "n", "type": "quantitative", "scale": {"domain": [-10, 130], "nice": false, "zero": false},
                         "axis": {"orient": "bottom", "values": [0,20,40,60,80,100,120], "format": "d", "tickSize": -22, "labelPadding": 46, "title": "Number of cycles", "titlePadding": 10, "labelFont": "Liberation Serif", "titleFont": "Liberation Serif"}},
                   "y": {"field": "t", "type": "quantitative", "scale": {"domain": [0, 0.65], "nice": false, "zero": false},
                         "axis": {"orient": "left", "values": [0,0.1,0.2,0.3,0.4,0.5,0.6], "format": ".1f", "tickSize": -22, "labelPadding": 39, "title": "Energy density/(MJ/m³)", "titlePadding": 24, "labelFont": "Liberation Serif", "titleFont": "Liberation Serif"}}}},
                {"mark": {"type": "line", "color": "#008000", "strokeWidth": 3},
                 "encoding": {
                   "x": {"field": "n", "type": "quantitative", "axis": {"orient": "bottom", "values": [10,30,50,70,90,110], "tickSize": -12, "tickWidth": 4, "labels": false, "domain": false, "title": null}},
                   "y": {"field": "e", "type": "quantitative", "axis": {"orient": "left", "values": [0.05,0.15,0.25,0.35,0.45,0.55], "tickSize": -12, "tickWidth": 4, "labels": false, "domain": false, "title": null}}}},
                {"mark": {"type": "line", "color": "#000099", "strokeWidth": 3},
                 "encoding": {
                   "x": {"field": "n", "type": "quantitative", "axis": {"orient": "top", "values": [0,20,40,60,80,100,120], "tickSize": -22, "labels": false, "title": null}},
                   "y": {"field": "w", "type": "quantitative", "axis": null}}},
                {"mark": {"type": "point", "shape": "M0.75,0A0.75,1,0,1,1,-0.75,0A0.75,1,0,1,1,0.75,0Z", "size": 750, "filled": true, "fill": "white", "stroke": "#FF00FF", "strokeWidth": 3, "opacity": 1},
                 "encoding": {
                   "x": {"field": "n", "type": "quantitative", "axis": {"orient": "top", "values": [10,30,50,70,90,110], "tickSize": -12, "tickWidth": 4, "labels": false, "domain": false, "title": null}},
                   "y": {"field": "t", "type": "quantitative", "axis": null}}},
                {"mark": {"type": "point", "shape": "M0.75,0A0.75,1,0,0,0,-0.75,0Z", "size": 750, "filled": true, "color": "#FF00FF", "opacity": 1},
                 "encoding": {"x": {"field": "n", "type": "quantitative", "axis": null}, "y": {"field": "t", "type": "quantitative", "axis": null}}},
                {"mark": {"type": "point", "shape": "M0.75,0A0.75,1,0,1,1,-0.75,0A0.75,1,0,1,1,0.75,0Z", "size": 750, "filled": true, "fill": "#008000", "stroke": "#005A00", "strokeWidth": 1.5, "opacity": 1},
                 "encoding": {"x": {"field": "n", "type": "quantitative", "axis": null}, "y": {"field": "e", "type": "quantitative", "axis": null}}},
                {"mark": {"type": "point", "shape": "M0.22,-0.25A0.22,0.32,0,1,1,-0.22,-0.25A0.22,0.32,0,1,1,0.22,-0.25Z", "size": 750, "filled": true, "color": "#D8F0D8", "opacity": 1},
                 "encoding": {"x": {"field": "n", "type": "quantitative", "axis": null}, "y": {"field": "e", "type": "quantitative", "axis": null}}},
                {"mark": {"type": "point", "shape": "M0,-1.2L0.19,-0.37L0.81,-0.37L0.31,0.14L0.5,0.97L0,0.46L-0.5,0.97L-0.31,0.14L-0.81,-0.37L-0.19,-0.37Z", "size": 750, "filled": true, "fill": "#1414B4", "stroke": "#000080", "strokeWidth": 2, "opacity": 1},
                 "encoding": {"x": {"field": "n", "type": "quantitative", "axis": null}, "y": {"field": "w", "type": "quantitative", "axis": null}}},
                {"data": {"values": [{}]}, "mark": {"type": "rect", "color": "black"},
                 "encoding": {"x": {"datum": 6.61, "axis": null}, "x2": {"datum": 79.09}, "y": {"datum": 0.6150, "axis": null}, "y2": {"datum": 0.4547}}},
                {"data": {"name": "leg"},
                 "mark": {"type": "point", "filled": true, "opacity": 0, "size": 900},
                 "encoding": {
                   "color": {"field": "s", "type": "nominal",
                     "scale": {"domain": ["Total input energy density", "Elastic energy density", "Dissipation ratio", "Dissipated energy density"], "range": ["#FF00FF", "#008000", "#FF0080", "#000099"]},
                     "legend": {"orient": "none", "legendX": 166, "legendY": 49, "title": null, "fillColor": "white", "strokeColor": "black", "padding": 12, "labelFontSize": 58, "labelColor": "black", "labelOffset": 119, "rowPadding": 17, "symbolSize": 900, "symbolStrokeWidth": 0, "symbolOpacity": 1, "zindex": 2}},
                   "shape": {"field": "s", "type": "nominal",
                     "scale": {"domain": ["Total input energy density", "Elastic energy density", "Dissipation ratio", "Dissipated energy density"], "range": ["M-1,-0.13H7V0.13H-1Z M3.6,0A0.6,0.8,0,1,1,2.4,0A0.6,0.8,0,1,1,3.6,0Z", "M-1,-0.13H7V0.13H-1Z M3.6,0A0.6,0.8,0,1,1,2.4,0A0.6,0.8,0,1,1,3.6,0Z", "M-1,-0.13H7V0.13H-1Z M3.6,0A0.6,0.8,0,1,1,2.4,0A0.6,0.8,0,1,1,3.6,0Z", "M-1,-0.13H7V0.13H-1Z M3,-0.9L3.14,-0.28L3.61,-0.28L3.23,0.1L3.38,0.73L3,0.35L2.62,0.73L2.77,0.1L2.39,-0.28L2.86,-0.28Z"]},
                     "legend": {"orient": "none", "legendX": 166, "legendY": 49, "title": null, "fillColor": "white", "strokeColor": "black", "padding": 12, "labelFontSize": 58, "labelColor": "black", "labelOffset": 119, "rowPadding": 17, "symbolSize": 900, "symbolStrokeWidth": 0, "symbolOpacity": 1, "zindex": 2}}}},
                {"data": {"values": [{}]}, "mark": {"type": "rect", "color": "black"},
                 "encoding": {"x": {"datum": -7.84, "axis": null}, "x2": {"datum": 0.38}, "y": {"datum": 0.6322, "axis": null}, "y2": {"datum": 0.5858}}},
                {"data": {"values": [{}]}, "mark": {"type": "rect", "fill": "white", "stroke": "black", "strokeWidth": 3},
                 "encoding": {"x": {"datum": -9.28, "axis": null}, "x2": {"datum": -1.06}, "y": {"datum": 0.6416, "axis": null}, "y2": {"datum": 0.5952}}},
                {"data": {"values": [{}]}, "mark": {"type": "text", "text": "(a)", "fontSize": 62, "font": "Liberation Serif", "color": "black"},
                 "encoding": {"x": {"datum": -5.17, "axis": null}, "y": {"datum": 0.6184, "axis": null}}}
              ],
              "resolve": {"axis": {"x": "independent", "y": "independent"}}
            },
            {
              "layer": [
                {"mark": {"type": "line", "color": "#FF0080", "strokeWidth": 3},
                 "encoding": {
                   "x": {"field": "n", "type": "quantitative", "axis": null},
                   "y": {"field": "r", "type": "quantitative", "scale": {"domain": [0.06, 0.16], "nice": false, "zero": false},
                         "axis": {"orient": "right", "values": [0.06,0.08,0.10,0.12,0.14,0.16], "format": ".2f", "tickSize": -22, "labelPadding": 56, "labelColor": "#FF0080", "tickColor": "#FF0080", "domainColor": "#FF0080", "title": "Dissipation ratio", "titleColor": "#FF0080", "titleAngle": 270, "titleX": -72, "titleBaseline": "middle", "labelFont": "Liberation Serif", "titleFont": "Liberation Serif"}}}},
                {"mark": {"type": "point", "shape": "M0.75,0A0.75,1,0,1,1,-0.75,0A0.75,1,0,1,1,0.75,0Z", "size": 750, "filled": true, "fill": "#FF0080", "stroke": "#E0006E", "strokeWidth": 1.5, "opacity": 1},
                 "encoding": {
                   "x": {"field": "n", "type": "quantitative", "axis": null},
                   "y": {"field": "r", "type": "quantitative", "axis": {"orient": "right", "values": [0.07,0.09,0.11,0.13,0.15], "tickSize": -12, "tickWidth": 4, "labels": false, "domain": false, "tickColor": "#FF0080", "title": null}}}},
                {"mark": {"type": "point", "shape": "M0.22,-0.25A0.22,0.32,0,1,1,-0.22,-0.25A0.22,0.32,0,1,1,0.22,-0.25Z", "size": 750, "filled": true, "color": "#FFC8E4", "opacity": 1},
                 "encoding": {"x": {"field": "n", "type": "quantitative", "axis": null}, "y": {"field": "r", "type": "quantitative", "axis": null}}}
              ],
              "resolve": {"axis": {"y": "independent"}}
            }
          ],
          "resolve": {"scale": {"y": "independent"}}
        },
        {
          "width": 1580, "height": 1284,
          "data": {"name": "b"},
          "layer": [
            {
              "layer": [
                {"mark": {"type": "line", "color": "#FF00FF", "strokeWidth": 3},
                 "encoding": {
                   "x": {"field": "n", "type": "quantitative", "scale": {"domain": [-10, 130], "nice": false, "zero": false},
                         "axis": {"orient": "bottom", "values": [0,20,40,60,80,100,120], "format": "d", "tickSize": -22, "labelPadding": 46, "title": "Number of cycles", "titlePadding": 10, "labelFont": "Liberation Serif", "titleFont": "Liberation Serif"}},
                   "y": {"field": "t", "type": "quantitative", "scale": {"domain": [0, 0.9], "nice": false, "zero": false},
                         "axis": {"orient": "left", "values": [0,0.1,0.2,0.3,0.4,0.5,0.6,0.7,0.8,0.9], "format": ".1f", "tickSize": -22, "labelPadding": 39, "title": "Energy density/(MJ/m³)", "titlePadding": 24, "labelFont": "Liberation Serif", "titleFont": "Liberation Serif"}}}},
                {"mark": {"type": "line", "color": "#008000", "strokeWidth": 3},
                 "encoding": {
                   "x": {"field": "n", "type": "quantitative", "axis": {"orient": "bottom", "values": [10,30,50,70,90,110], "tickSize": -12, "tickWidth": 4, "labels": false, "domain": false, "title": null}},
                   "y": {"field": "e", "type": "quantitative", "axis": {"orient": "left", "values": [0.05,0.15,0.25,0.35,0.45,0.55,0.65,0.75,0.85], "tickSize": -12, "tickWidth": 4, "labels": false, "domain": false, "title": null}}}},
                {"mark": {"type": "line", "color": "#000099", "strokeWidth": 3},
                 "encoding": {
                   "x": {"field": "n", "type": "quantitative", "axis": {"orient": "top", "values": [0,20,40,60,80,100,120], "tickSize": -22, "labels": false, "title": null}},
                   "y": {"field": "w", "type": "quantitative", "axis": null}}},
                {"mark": {"type": "point", "shape": "M0.75,0A0.75,1,0,1,1,-0.75,0A0.75,1,0,1,1,0.75,0Z", "size": 750, "filled": true, "fill": "white", "stroke": "#FF00FF", "strokeWidth": 3, "opacity": 1},
                 "encoding": {
                   "x": {"field": "n", "type": "quantitative", "axis": {"orient": "top", "values": [10,30,50,70,90,110], "tickSize": -12, "tickWidth": 4, "labels": false, "domain": false, "title": null}},
                   "y": {"field": "t", "type": "quantitative", "axis": null}}},
                {"mark": {"type": "point", "shape": "M0.75,0A0.75,1,0,0,0,-0.75,0Z", "size": 750, "filled": true, "color": "#FF00FF", "opacity": 1},
                 "encoding": {"x": {"field": "n", "type": "quantitative", "axis": null}, "y": {"field": "t", "type": "quantitative", "axis": null}}},
                {"mark": {"type": "point", "shape": "M0.75,0A0.75,1,0,1,1,-0.75,0A0.75,1,0,1,1,0.75,0Z", "size": 750, "filled": true, "fill": "#008000", "stroke": "#005A00", "strokeWidth": 1.5, "opacity": 1},
                 "encoding": {"x": {"field": "n", "type": "quantitative", "axis": null}, "y": {"field": "e", "type": "quantitative", "axis": null}}},
                {"mark": {"type": "point", "shape": "M0.22,-0.25A0.22,0.32,0,1,1,-0.22,-0.25A0.22,0.32,0,1,1,0.22,-0.25Z", "size": 750, "filled": true, "color": "#D8F0D8", "opacity": 1},
                 "encoding": {"x": {"field": "n", "type": "quantitative", "axis": null}, "y": {"field": "e", "type": "quantitative", "axis": null}}},
                {"mark": {"type": "point", "shape": "M0,-1.2L0.19,-0.37L0.81,-0.37L0.31,0.14L0.5,0.97L0,0.46L-0.5,0.97L-0.31,0.14L-0.81,-0.37L-0.19,-0.37Z", "size": 750, "filled": true, "fill": "#1414B4", "stroke": "#000080", "strokeWidth": 2, "opacity": 1},
                 "encoding": {"x": {"field": "n", "type": "quantitative", "axis": null}, "y": {"field": "w", "type": "quantitative", "axis": null}}},
                {"data": {"values": [{}]}, "mark": {"type": "rect", "color": "black"},
                 "encoding": {"x": {"datum": 6.75, "axis": null}, "x2": {"datum": 77.90}, "y": {"datum": 0.8348, "axis": null}, "y2": {"datum": 0.6196}}},
                {"data": {"name": "leg"},
                 "mark": {"type": "point", "filled": true, "opacity": 0, "size": 900},
                 "encoding": {
                   "color": {"field": "s", "type": "nominal",
                     "scale": {"domain": ["Total input energy density", "Elastic energy density", "Dissipation ratio", "Dissipated energy density"], "range": ["#FF00FF", "#008000", "#FF0080", "#000099"]},
                     "legend": {"orient": "none", "legendX": 171, "legendY": 75, "title": null, "fillColor": "white", "strokeColor": "black", "padding": 12, "labelFontSize": 58, "labelColor": "black", "labelOffset": 119, "rowPadding": 17, "symbolSize": 900, "symbolStrokeWidth": 0, "symbolOpacity": 1, "zindex": 2}},
                   "shape": {"field": "s", "type": "nominal",
                     "scale": {"domain": ["Total input energy density", "Elastic energy density", "Dissipation ratio", "Dissipated energy density"], "range": ["M-1,-0.13H7V0.13H-1Z M3.6,0A0.6,0.8,0,1,1,2.4,0A0.6,0.8,0,1,1,3.6,0Z", "M-1,-0.13H7V0.13H-1Z M3.6,0A0.6,0.8,0,1,1,2.4,0A0.6,0.8,0,1,1,3.6,0Z", "M-1,-0.13H7V0.13H-1Z M3.6,0A0.6,0.8,0,1,1,2.4,0A0.6,0.8,0,1,1,3.6,0Z", "M-1,-0.13H7V0.13H-1Z M3,-0.9L3.14,-0.28L3.61,-0.28L3.23,0.1L3.38,0.73L3,0.35L2.62,0.73L2.77,0.1L2.39,-0.28L2.86,-0.28Z"]},
                     "legend": {"orient": "none", "legendX": 171, "legendY": 75, "title": null, "fillColor": "white", "strokeColor": "black", "padding": 12, "labelFontSize": 58, "labelColor": "black", "labelOffset": 119, "rowPadding": 17, "symbolSize": 900, "symbolStrokeWidth": 0, "symbolOpacity": 1, "zindex": 2}}}},
                {"data": {"values": [{}]}, "mark": {"type": "rect", "color": "black"},
                 "encoding": {"x": {"datum": -7.17, "axis": null}, "x2": {"datum": 1.16}, "y": {"datum": 0.8713, "axis": null}, "y2": {"datum": 0.8068}}},
                {"data": {"values": [{}]}, "mark": {"type": "rect", "fill": "white", "stroke": "black", "strokeWidth": 3},
                 "encoding": {"x": {"datum": -8.85, "axis": null}, "x2": {"datum": -0.52}, "y": {"datum": 0.8853, "axis": null}, "y2": {"datum": 0.8208}}},
                {"data": {"values": [{}]}, "mark": {"type": "text", "text": "(b)", "fontSize": 62, "font": "Liberation Serif", "color": "black"},
                 "encoding": {"x": {"datum": -4.69, "axis": null}, "y": {"datum": 0.8531, "axis": null}}}
              ],
              "resolve": {"axis": {"x": "independent", "y": "independent"}}
            },
            {
              "layer": [
                {"mark": {"type": "line", "color": "#FF0080", "strokeWidth": 3},
                 "encoding": {
                   "x": {"field": "n", "type": "quantitative", "axis": null},
                   "y": {"field": "r", "type": "quantitative", "scale": {"domain": [0.06, 0.15], "nice": false, "zero": false},
                         "axis": {"orient": "right", "values": [0.06,0.08,0.10,0.12,0.14], "format": ".2f", "tickSize": -22, "labelPadding": 56, "labelColor": "#FF0080", "tickColor": "#FF0080", "domainColor": "#FF0080", "title": "Dissipation ratio", "titleColor": "#FF0080", "titleAngle": 270, "titleX": -80, "titleBaseline": "middle", "labelFont": "Liberation Serif", "titleFont": "Liberation Serif"}}}},
                {"mark": {"type": "point", "shape": "M0.75,0A0.75,1,0,1,1,-0.75,0A0.75,1,0,1,1,0.75,0Z", "size": 750, "filled": true, "fill": "#FF0080", "stroke": "#E0006E", "strokeWidth": 1.5, "opacity": 1},
                 "encoding": {
                   "x": {"field": "n", "type": "quantitative", "axis": null},
                   "y": {"field": "r", "type": "quantitative", "axis": {"orient": "right", "values": [0.07,0.09,0.11,0.13], "tickSize": -12, "tickWidth": 4, "labels": false, "domain": false, "tickColor": "#FF0080", "title": null}}}},
                {"mark": {"type": "point", "shape": "M0.22,-0.25A0.22,0.32,0,1,1,-0.22,-0.25A0.22,0.32,0,1,1,0.22,-0.25Z", "size": 750, "filled": true, "color": "#FFC8E4", "opacity": 1},
                 "encoding": {"x": {"field": "n", "type": "quantitative", "axis": null}, "y": {"field": "r", "type": "quantitative", "axis": null}}}
              ],
              "resolve": {"axis": {"y": "independent"}}
            }
          ],
          "resolve": {"scale": {"y": "independent"}}
        }
      ],
      "spacing": 492,
      "bounds": "flush",
      "center": true,
      "resolve": {"scale": {"color": "independent", "shape": "independent"}}
    },
    {
      "hconcat": [
        {
          "width": 1591, "height": 1299,
          "data": {"name": "c"},
          "layer": [
            {
              "layer": [
                {"mark": {"type": "line", "color": "#FF00FF", "strokeWidth": 3},
                 "encoding": {
                   "x": {"field": "n", "type": "quantitative", "scale": {"domain": [-10, 130], "nice": false, "zero": false},
                         "axis": {"orient": "bottom", "values": [0,20,40,60,80,100,120], "format": "d", "tickSize": -22, "labelPadding": 46, "title": "Number of cycles", "titlePadding": 10, "labelFont": "Liberation Serif", "titleFont": "Liberation Serif"}},
                   "y": {"field": "t", "type": "quantitative", "scale": {"domain": [0, 1.1], "nice": false, "zero": false},
                         "axis": {"orient": "left", "values": [0,0.2,0.4,0.6,0.8,1.0], "format": ".1f", "tickSize": -22, "labelPadding": 39, "title": "Energy density/(MJ/m³)", "titlePadding": 24, "labelFont": "Liberation Serif", "titleFont": "Liberation Serif"}}}},
                {"mark": {"type": "line", "color": "#008000", "strokeWidth": 3},
                 "encoding": {
                   "x": {"field": "n", "type": "quantitative", "axis": {"orient": "bottom", "values": [10,30,50,70,90,110], "tickSize": -12, "tickWidth": 4, "labels": false, "domain": false, "title": null}},
                   "y": {"field": "e", "type": "quantitative", "axis": {"orient": "left", "values": [0.1,0.3,0.5,0.7,0.9], "tickSize": -12, "tickWidth": 4, "labels": false, "domain": false, "title": null}}}},
                {"mark": {"type": "line", "color": "#000099", "strokeWidth": 3},
                 "encoding": {
                   "x": {"field": "n", "type": "quantitative", "axis": {"orient": "top", "values": [0,20,40,60,80,100,120], "tickSize": -22, "labels": false, "title": null}},
                   "y": {"field": "w", "type": "quantitative", "axis": null}}},
                {"mark": {"type": "point", "shape": "M0.75,0A0.75,1,0,1,1,-0.75,0A0.75,1,0,1,1,0.75,0Z", "size": 750, "filled": true, "fill": "white", "stroke": "#FF00FF", "strokeWidth": 3, "opacity": 1},
                 "encoding": {
                   "x": {"field": "n", "type": "quantitative", "axis": {"orient": "top", "values": [10,30,50,70,90,110], "tickSize": -12, "tickWidth": 4, "labels": false, "domain": false, "title": null}},
                   "y": {"field": "t", "type": "quantitative", "axis": null}}},
                {"mark": {"type": "point", "shape": "M0.75,0A0.75,1,0,0,0,-0.75,0Z", "size": 750, "filled": true, "color": "#FF00FF", "opacity": 1},
                 "encoding": {"x": {"field": "n", "type": "quantitative", "axis": null}, "y": {"field": "t", "type": "quantitative", "axis": null}}},
                {"mark": {"type": "point", "shape": "M0.75,0A0.75,1,0,1,1,-0.75,0A0.75,1,0,1,1,0.75,0Z", "size": 750, "filled": true, "fill": "#008000", "stroke": "#005A00", "strokeWidth": 1.5, "opacity": 1},
                 "encoding": {"x": {"field": "n", "type": "quantitative", "axis": null}, "y": {"field": "e", "type": "quantitative", "axis": null}}},
                {"mark": {"type": "point", "shape": "M0.22,-0.25A0.22,0.32,0,1,1,-0.22,-0.25A0.22,0.32,0,1,1,0.22,-0.25Z", "size": 750, "filled": true, "color": "#D8F0D8", "opacity": 1},
                 "encoding": {"x": {"field": "n", "type": "quantitative", "axis": null}, "y": {"field": "e", "type": "quantitative", "axis": null}}},
                {"mark": {"type": "point", "shape": "M0,-1.2L0.19,-0.37L0.81,-0.37L0.31,0.14L0.5,0.97L0,0.46L-0.5,0.97L-0.31,0.14L-0.81,-0.37L-0.19,-0.37Z", "size": 750, "filled": true, "fill": "#1414B4", "stroke": "#000080", "strokeWidth": 2, "opacity": 1},
                 "encoding": {"x": {"field": "n", "type": "quantitative", "axis": null}, "y": {"field": "w", "type": "quantitative", "axis": null}}},
                {"data": {"values": [{}]}, "mark": {"type": "rect", "color": "black"},
                 "encoding": {"x": {"datum": 6.46, "axis": null}, "x2": {"datum": 77.12}, "y": {"datum": 1.0424, "axis": null}, "y2": {"datum": 0.7824}}},
                {"data": {"name": "leg"},
                 "mark": {"type": "point", "filled": true, "opacity": 0, "size": 900},
                 "encoding": {
                   "color": {"field": "s", "type": "nominal",
                     "scale": {"domain": ["Total input energy density", "Elastic energy density", "Dissipation ratio", "Dissipated energy density"], "range": ["#FF00FF", "#008000", "#FF0080", "#000099"]},
                     "legend": {"orient": "none", "legendX": 169, "legendY": 50, "title": null, "fillColor": "white", "strokeColor": "black", "padding": 12, "labelFontSize": 58, "labelColor": "black", "labelOffset": 119, "rowPadding": 17, "symbolSize": 900, "symbolStrokeWidth": 0, "symbolOpacity": 1, "zindex": 2}},
                   "shape": {"field": "s", "type": "nominal",
                     "scale": {"domain": ["Total input energy density", "Elastic energy density", "Dissipation ratio", "Dissipated energy density"], "range": ["M-1,-0.13H7V0.13H-1Z M3.6,0A0.6,0.8,0,1,1,2.4,0A0.6,0.8,0,1,1,3.6,0Z", "M-1,-0.13H7V0.13H-1Z M3.6,0A0.6,0.8,0,1,1,2.4,0A0.6,0.8,0,1,1,3.6,0Z", "M-1,-0.13H7V0.13H-1Z M3.6,0A0.6,0.8,0,1,1,2.4,0A0.6,0.8,0,1,1,3.6,0Z", "M-1,-0.13H7V0.13H-1Z M3,-0.9L3.14,-0.28L3.61,-0.28L3.23,0.1L3.38,0.73L3,0.35L2.62,0.73L2.77,0.1L2.39,-0.28L2.86,-0.28Z"]},
                     "legend": {"orient": "none", "legendX": 169, "legendY": 50, "title": null, "fillColor": "white", "strokeColor": "black", "padding": 12, "labelFontSize": 58, "labelColor": "black", "labelOffset": 119, "rowPadding": 17, "symbolSize": 900, "symbolStrokeWidth": 0, "symbolOpacity": 1, "zindex": 2}}}},
                {"data": {"values": [{}]}, "mark": {"type": "rect", "color": "black"},
                 "encoding": {"x": {"datum": -8.24, "axis": null}, "x2": {"datum": 0.03}, "y": {"datum": 1.0780, "axis": null}, "y2": {"datum": 0.9999}}},
                {"data": {"values": [{}]}, "mark": {"type": "rect", "fill": "white", "stroke": "black", "strokeWidth": 3},
                 "encoding": {"x": {"datum": -9.91, "axis": null}, "x2": {"datum": -1.64}, "y": {"datum": 1.0949, "axis": null}, "y2": {"datum": 1.017}}},
                {"data": {"values": [{}]}, "mark": {"type": "text", "text": "(c)", "fontSize": 62, "font": "Liberation Serif", "color": "black"},
                 "encoding": {"x": {"datum": -5.78, "axis": null}, "y": {"datum": 1.056, "axis": null}}}
              ],
              "resolve": {"axis": {"x": "independent", "y": "independent"}}
            },
            {
              "layer": [
                {"mark": {"type": "line", "color": "#FF0080", "strokeWidth": 3},
                 "encoding": {
                   "x": {"field": "n", "type": "quantitative", "axis": null},
                   "y": {"field": "r", "type": "quantitative", "scale": {"domain": [0.05, 0.13], "nice": false, "zero": false},
                         "axis": {"orient": "right", "values": [0.06,0.08,0.10,0.12], "format": ".2f", "tickSize": -22, "labelPadding": 56, "labelColor": "#FF0080", "tickColor": "#FF0080", "domainColor": "#FF0080", "title": "Dissipation ratio", "titleColor": "#FF0080", "titleAngle": 270, "titleX": -77, "titleBaseline": "middle", "labelFont": "Liberation Serif", "titleFont": "Liberation Serif"}}}},
                {"mark": {"type": "point", "shape": "M0.75,0A0.75,1,0,1,1,-0.75,0A0.75,1,0,1,1,0.75,0Z", "size": 750, "filled": true, "fill": "#FF0080", "stroke": "#E0006E", "strokeWidth": 1.5, "opacity": 1},
                 "encoding": {
                   "x": {"field": "n", "type": "quantitative", "axis": null},
                   "y": {"field": "r", "type": "quantitative", "axis": {"orient": "right", "values": [0.07,0.09,0.11], "tickSize": -12, "tickWidth": 4, "labels": false, "domain": false, "tickColor": "#FF0080", "title": null}}}},
                {"mark": {"type": "point", "shape": "M0.22,-0.25A0.22,0.32,0,1,1,-0.22,-0.25A0.22,0.32,0,1,1,0.22,-0.25Z", "size": 750, "filled": true, "color": "#FFC8E4", "opacity": 1},
                 "encoding": {"x": {"field": "n", "type": "quantitative", "axis": null}, "y": {"field": "r", "type": "quantitative", "axis": null}}}
              ],
              "resolve": {"axis": {"y": "independent"}}
            }
          ],
          "resolve": {"scale": {"y": "independent"}}
        },
        {
          "width": 1648, "height": 1328,
          "data": {"name": "d"},
          "layer": [
            {
              "layer": [
                {"mark": {"type": "line", "color": "#FF00FF", "strokeWidth": 3},
                 "encoding": {
                   "x": {"field": "n", "type": "quantitative", "scale": {"domain": [-10, 130], "nice": false, "zero": false},
                         "axis": {"orient": "bottom", "values": [0,20,40,60,80,100,120], "format": "d", "tickSize": -22, "labelPadding": 46, "title": "Number of cycles", "titlePadding": 10, "labelFont": "Liberation Serif", "titleFont": "Liberation Serif"}},
                   "y": {"field": "t", "type": "quantitative", "scale": {"domain": [0, 1.4], "nice": false, "zero": false},
                         "axis": {"orient": "left", "values": [0,0.2,0.4,0.6,0.8,1.0,1.2,1.4], "format": ".1f", "tickSize": -22, "labelPadding": 39, "title": "Energy density/(MJ/m³)", "titlePadding": 24, "labelFont": "Liberation Serif", "titleFont": "Liberation Serif"}}}},
                {"mark": {"type": "line", "color": "#008000", "strokeWidth": 3},
                 "encoding": {
                   "x": {"field": "n", "type": "quantitative", "axis": {"orient": "bottom", "values": [10,30,50,70,90,110], "tickSize": -12, "tickWidth": 4, "labels": false, "domain": false, "title": null}},
                   "y": {"field": "e", "type": "quantitative", "axis": {"orient": "left", "values": [0.1,0.3,0.5,0.7,0.9,1.1,1.3], "tickSize": -12, "tickWidth": 4, "labels": false, "domain": false, "title": null}}}},
                {"mark": {"type": "line", "color": "#000099", "strokeWidth": 3},
                 "encoding": {
                   "x": {"field": "n", "type": "quantitative", "axis": {"orient": "top", "values": [0,20,40,60,80,100,120], "tickSize": -22, "labels": false, "title": null}},
                   "y": {"field": "w", "type": "quantitative", "axis": null}}},
                {"mark": {"type": "point", "shape": "M0.75,0A0.75,1,0,1,1,-0.75,0A0.75,1,0,1,1,0.75,0Z", "size": 750, "filled": true, "fill": "white", "stroke": "#FF00FF", "strokeWidth": 3, "opacity": 1},
                 "encoding": {
                   "x": {"field": "n", "type": "quantitative", "axis": {"orient": "top", "values": [10,30,50,70,90,110], "tickSize": -12, "tickWidth": 4, "labels": false, "domain": false, "title": null}},
                   "y": {"field": "t", "type": "quantitative", "axis": null}}},
                {"mark": {"type": "point", "shape": "M0.75,0A0.75,1,0,0,0,-0.75,0Z", "size": 750, "filled": true, "color": "#FF00FF", "opacity": 1},
                 "encoding": {"x": {"field": "n", "type": "quantitative", "axis": null}, "y": {"field": "t", "type": "quantitative", "axis": null}}},
                {"mark": {"type": "point", "shape": "M0.75,0A0.75,1,0,1,1,-0.75,0A0.75,1,0,1,1,0.75,0Z", "size": 750, "filled": true, "fill": "#008000", "stroke": "#005A00", "strokeWidth": 1.5, "opacity": 1},
                 "encoding": {"x": {"field": "n", "type": "quantitative", "axis": null}, "y": {"field": "e", "type": "quantitative", "axis": null}}},
                {"mark": {"type": "point", "shape": "M0.22,-0.25A0.22,0.32,0,1,1,-0.22,-0.25A0.22,0.32,0,1,1,0.22,-0.25Z", "size": 750, "filled": true, "color": "#D8F0D8", "opacity": 1},
                 "encoding": {"x": {"field": "n", "type": "quantitative", "axis": null}, "y": {"field": "e", "type": "quantitative", "axis": null}}},
                {"mark": {"type": "point", "shape": "M0,-1.2L0.19,-0.37L0.81,-0.37L0.31,0.14L0.5,0.97L0,0.46L-0.5,0.97L-0.31,0.14L-0.81,-0.37L-0.19,-0.37Z", "size": 750, "filled": true, "fill": "#1414B4", "stroke": "#000080", "strokeWidth": 2, "opacity": 1},
                 "encoding": {"x": {"field": "n", "type": "quantitative", "axis": null}, "y": {"field": "w", "type": "quantitative", "axis": null}}},
                {"data": {"values": [{}]}, "mark": {"type": "rect", "color": "black"},
                 "encoding": {"x": {"datum": 6.82, "axis": null}, "x2": {"datum": 75.04}, "y": {"datum": 1.3146, "axis": null}, "y2": {"datum": 0.9910}}},
                {"data": {"name": "leg"},
                 "mark": {"type": "point", "filled": true, "opacity": 0, "size": 900},
                 "encoding": {
                   "color": {"field": "s", "type": "nominal",
                     "scale": {"domain": ["Total input energy density", "Elastic energy density", "Dissipation ratio", "Dissipated energy density"], "range": ["#FF00FF", "#008000", "#FF0080", "#000099"]},
                     "legend": {"orient": "none", "legendX": 180, "legendY": 63, "title": null, "fillColor": "white", "strokeColor": "black", "padding": 12, "labelFontSize": 58, "labelColor": "black", "labelOffset": 119, "rowPadding": 17, "symbolSize": 900, "symbolStrokeWidth": 0, "symbolOpacity": 1, "zindex": 2}},
                   "shape": {"field": "s", "type": "nominal",
                     "scale": {"domain": ["Total input energy density", "Elastic energy density", "Dissipation ratio", "Dissipated energy density"], "range": ["M-1,-0.13H7V0.13H-1Z M3.6,0A0.6,0.8,0,1,1,2.4,0A0.6,0.8,0,1,1,3.6,0Z", "M-1,-0.13H7V0.13H-1Z M3.6,0A0.6,0.8,0,1,1,2.4,0A0.6,0.8,0,1,1,3.6,0Z", "M-1,-0.13H7V0.13H-1Z M3.6,0A0.6,0.8,0,1,1,2.4,0A0.6,0.8,0,1,1,3.6,0Z", "M-1,-0.13H7V0.13H-1Z M3,-0.9L3.14,-0.28L3.61,-0.28L3.23,0.1L3.38,0.73L3,0.35L2.62,0.73L2.77,0.1L2.39,-0.28L2.86,-0.28Z"]},
                     "legend": {"orient": "none", "legendX": 180, "legendY": 63, "title": null, "fillColor": "white", "strokeColor": "black", "padding": 12, "labelFontSize": 58, "labelColor": "black", "labelOffset": 119, "rowPadding": 17, "symbolSize": 900, "symbolStrokeWidth": 0, "symbolOpacity": 1, "zindex": 2}}}},
                {"data": {"values": [{}]}, "mark": {"type": "rect", "color": "black"},
                 "encoding": {"x": {"datum": -8.05, "axis": null}, "x2": {"datum": -0.06}, "y": {"datum": 1.360, "axis": null}, "y2": {"datum": 1.263}}},
                {"data": {"values": [{}]}, "mark": {"type": "rect", "fill": "white", "stroke": "black", "strokeWidth": 3},
                 "encoding": {"x": {"datum": -9.66, "axis": null}, "x2": {"datum": -1.67}, "y": {"datum": 1.381, "axis": null}, "y2": {"datum": 1.284}}},
                {"data": {"values": [{}]}, "mark": {"type": "text", "text": "(d)", "fontSize": 62, "font": "Liberation Serif", "color": "black"},
                 "encoding": {"x": {"datum": -5.67, "axis": null}, "y": {"datum": 1.3325, "axis": null}}}
              ],
              "resolve": {"axis": {"x": "independent", "y": "independent"}}
            },
            {
              "layer": [
                {"mark": {"type": "line", "color": "#FF0080", "strokeWidth": 3},
                 "encoding": {
                   "x": {"field": "n", "type": "quantitative", "axis": null},
                   "y": {"field": "r", "type": "quantitative", "scale": {"domain": [0.045, 0.13], "nice": false, "zero": false},
                         "axis": {"orient": "right", "values": [0.06,0.08,0.10,0.12], "format": ".2f", "tickSize": -22, "labelPadding": 56, "labelColor": "#FF0080", "tickColor": "#FF0080", "domainColor": "#FF0080", "title": "Dissipation ratio", "titleColor": "#FF0080", "titleAngle": 270, "titleX": -73, "titleBaseline": "middle", "labelFont": "Liberation Serif", "titleFont": "Liberation Serif"}}}},
                {"mark": {"type": "point", "shape": "M0.75,0A0.75,1,0,1,1,-0.75,0A0.75,1,0,1,1,0.75,0Z", "size": 750, "filled": true, "fill": "#FF0080", "stroke": "#E0006E", "strokeWidth": 1.5, "opacity": 1},
                 "encoding": {
                   "x": {"field": "n", "type": "quantitative", "axis": null},
                   "y": {"field": "r", "type": "quantitative", "axis": {"orient": "right", "values": [0.05,0.07,0.09,0.11], "tickSize": -12, "tickWidth": 4, "labels": false, "domain": false, "tickColor": "#FF0080", "title": null}}}},
                {"mark": {"type": "point", "shape": "M0.22,-0.25A0.22,0.32,0,1,1,-0.22,-0.25A0.22,0.32,0,1,1,0.22,-0.25Z", "size": 750, "filled": true, "color": "#FFC8E4", "opacity": 1},
                 "encoding": {"x": {"field": "n", "type": "quantitative", "axis": null}, "y": {"field": "r", "type": "quantitative", "axis": null}}}
              ],
              "resolve": {"axis": {"y": "independent"}}
            }
          ],
          "resolve": {"scale": {"y": "independent"}}
        }
      ],
      "spacing": 453,
      "bounds": "flush",
      "center": true,
      "resolve": {"scale": {"color": "independent", "shape": "independent"}}
    }
  ]
}
